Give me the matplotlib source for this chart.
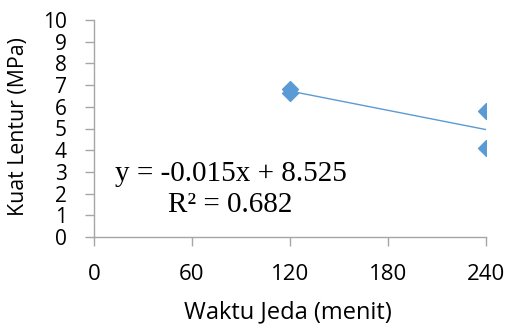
import numpy as np
import matplotlib.pyplot as plt

# data
waktu = [120, 120, 240, 240]          # menit
kuat = [6.8, 6.65, 5.8, 4.1]          # MPa
xticks = [0, 60, 120, 180, 240]
yticks = list(range(0, 11))

blue = '#5b9bd5'
grey = '#a6a6a6'

fig = plt.figure(figsize=(5.1, 3.27), dpi=100)
ax = fig.add_axes([94 / 510, 1 - 237 / 327, (486 - 94) / 510, (237 - 20) / 327])

ax.scatter(waktu, kuat, marker='D', s=65, color=blue, zorder=3)

# linear trend line
m, c = np.polyfit(waktu, kuat, 1)
xt = np.array([min(waktu), max(waktu)])
ax.plot(xt, m * xt + c, color=blue, lw=1)

ax.set_xlim(0, 240)
ax.set_ylim(0, 10)
ax.set_xticks(xticks)
ax.set_yticks(yticks)

for s in ['top', 'right']:
    ax.spines[s].set_visible(False)
for s in ['left', 'bottom']:
    ax.spines[s].set_color(grey)
    ax.spines[s].set_linewidth(1)
    ax.spines[s].set_clip_on(False)
ax.tick_params(axis='both', colors=grey, length=6.5, width=1, labelcolor='black')
ax.tick_params(axis='x', pad=13, labelsize=16)
ax.tick_params(axis='y', pad=13, labelsize=15)
for lab in ax.get_xticklabels() + ax.get_yticklabels():
    lab.set_family('Open Sans')

fig.text(288 / 510, 1 - 312 / 327, 'Waktu Jeda (menit)', fontsize=17,
         family='Open Sans', ha='center', va='center')
fig.text(18.5 / 510, 1 - 127 / 327, 'Kuat Lentur (MPa)', fontsize=15.3,
         family='Open Sans', ha='center', va='center', rotation=90)

fig.text(115 / 510, 1 - 174 / 327, 'y = -0.015x + 8.525', fontsize=21,
         family='Liberation Serif', va='center', ha='left')
fig.text(230 / 510, 1 - 205 / 327, 'R² = 0.682', fontsize=21,
         family='Liberation Serif', va='center', ha='center')

fig.savefig('out.png', dpi=100)
